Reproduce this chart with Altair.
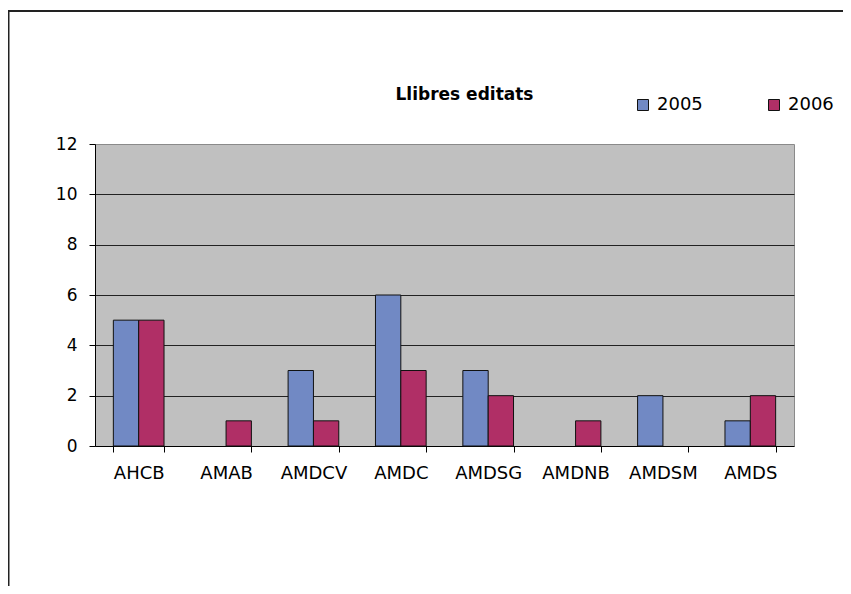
import altair as alt
import pandas as pd

categories = ["AHCB", "AMAB", "AMDCV", "AMDC", "AMDSG", "AMDNB", "AMDSM", "AMDS"]
values_2005 = [5, 0, 3, 6, 3, 0, 2, 1]
values_2006 = [5, 1, 1, 3, 2, 1, 0, 2]
years = ["2005", "2006"]
colors = ["#7189C4", "#B02F66"]
chart_title = "Llibres editats"

rows = []
for c, a, b in zip(categories, values_2005, values_2006):
    rows.append({"cat": c, "year": "2005", "value": a})
    rows.append({"cat": c, "year": "2006", "value": b})
df = pd.DataFrame(rows)
one = pd.DataFrame({"t": [chart_title]})

FONT = "DejaVu Sans"
W, H = 699, 302

bars = alt.Chart(df).transform_filter("datum.value > 0").mark_bar(
    stroke="#111", strokeWidth=1
).encode(
    x=alt.X("cat:N", sort=categories, title=None,
            scale=alt.Scale(paddingInner=0.42, paddingOuter=0.21),
            axis=alt.Axis(labelAngle=0, tickBand="extent", tickSize=6, labelPadding=12,
                          labelFontSize=18, labelFont=FONT, labelColor="#000",
                          domainColor="#000", tickColor="#000", grid=False)),
    xOffset=alt.XOffset("year:N", sort=years, scale=alt.Scale(paddingInner=0, paddingOuter=0)),
    y=alt.Y("value:Q", title=None,
            scale=alt.Scale(domain=[0, 12], nice=False),
            axis=alt.Axis(values=[0, 2, 4, 6, 8, 10, 12], tickSize=6, labelPadding=12,
                          labelFontSize=17, labelFont=FONT, labelColor="#000",
                          domainColor="#000", tickColor="#000",
                          gridColor="#222",
                          gridOpacity={"condition": {"test": "datum.value == 12 || datum.value == 0", "value": 0}, "value": 1})),
    color=alt.Color("year:N", sort=years, scale=alt.Scale(domain=years, range=colors),
                    legend=alt.Legend(title=None, orient="none", direction="horizontal",
                                      legendX=539, legendY=-48, padding=0,
                                      symbolType="square", symbolSize=121,
                                      symbolStrokeColor="#111", symbolStrokeWidth=1,
                                      labelFontSize=18, labelFont=FONT, labelColor="#000",
                                      labelOffset=5, columnPadding=62)),
)

title_mark = alt.Chart(one).mark_text(
    font=FONT, fontSize=17, fontWeight="bold", color="#000", align="center", baseline="alphabetic"
).encode(x=alt.value(W / 2 + 20), y=alt.value(-44), text="t:N")

top_line = alt.Chart(one).mark_rule(color="#222", strokeWidth=2).encode(
    x=alt.value(-86.5), x2=alt.value(760), y=alt.value(-133)
)
left_line = alt.Chart(one).mark_rule(color="#222", strokeWidth=2).encode(
    x=alt.value(-86.5), y=alt.value(-134), y2=alt.value(460)
)

chart = alt.layer(bars, title_mark, top_line, left_line).properties(
    width=W, height=H,
    autosize=alt.AutoSizeParams(type="none"),
    padding={"left": 87, "top": 136, "right": 49, "bottom": 140},
    background="white",
).configure_view(
    fill="#C0C0C0", stroke="#8a8a8a", strokeWidth=1
)

chart.save("out.html", embed_options={"renderer": "svg", "actions": False})
